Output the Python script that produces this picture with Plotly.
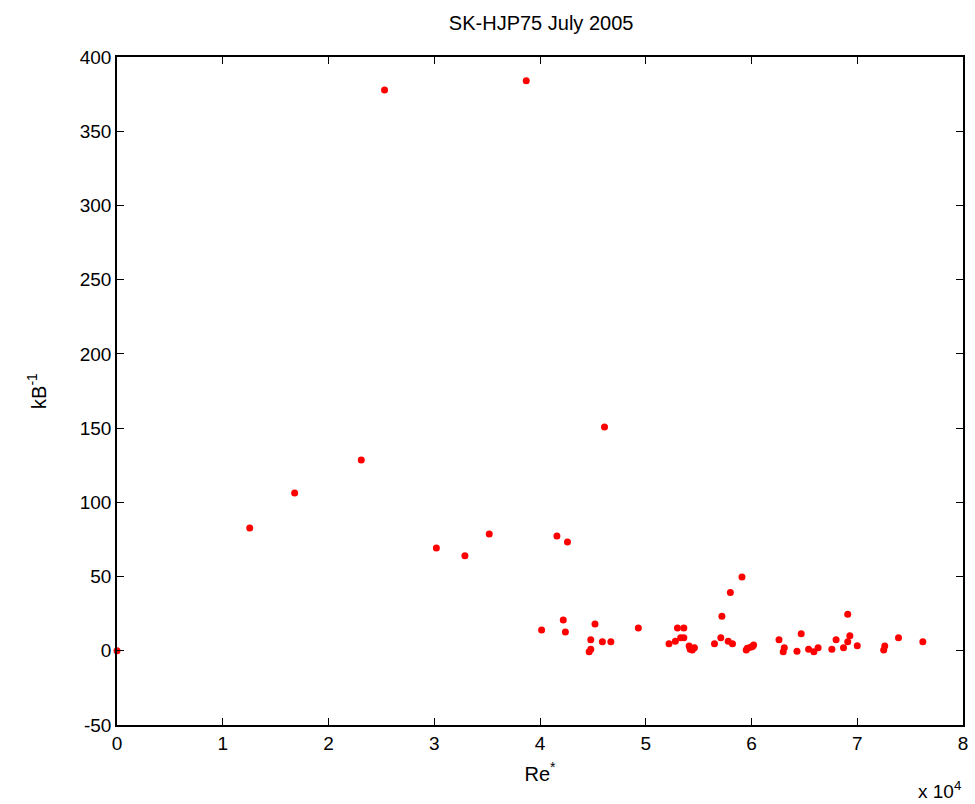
import plotly.graph_objects as go

# Roughness Reynolds number Re* and kB^-1 for the SK-HJP75 campaign
re_star = [
    0, 12550, 16800, 23100, 25300, 30200, 32900, 35200, 38700, 41600,
    42600, 46100, 40150, 42200, 42400, 45200, 44800, 44800, 44650, 45900,
    46700, 49300, 52200, 52800, 53000, 53600, 53300, 53600, 54100, 54200,
    54600, 54400, 56500, 57100, 57200, 57800, 58200, 58000, 59100, 59600,
    59500, 60200, 60100, 59900, 62600, 63100, 63000, 64700, 64300, 65400,
    65900, 66300, 67600, 68000, 68700, 69100, 69300, 69100, 70000, 72500,
    72600, 73900, 76200,
]
kb_inv = [
    0, 82.7, 106.3, 128.6, 377.8, 69.3, 64.0, 78.7, 384.0, 77.3,
    73.3, 150.8, 14.0, 20.7, 12.7, 18.0, 7.5, 1.0, -0.6, 6.1,
    6.1, 15.4, 4.8, 6.4, 15.4, 15.4, 8.8, 8.8, 3.2, 1.0,
    2.1, 0.5, 4.8, 8.8, 23.2, 6.4, 4.8, 39.2, 49.7, 1.7,
    0.5, 3.9, 2.8, 2.4, 7.5, 2.1, -0.6, 11.5, -0.3, 1.0,
    -0.6, 2.1, 1.0, 7.5, 2.1, 24.6, 10.2, 6.1, 3.4, 0.5,
    3.2, 8.8, 6.1,
]

x_tick_vals = [0, 10000, 20000, 30000, 40000, 50000, 60000, 70000, 80000]
x_tick_text = ["0", "1", "2", "3", "4", "5", "6", "7", "8"]
y_tick_vals = [-50, 0, 50, 100, 150, 200, 250, 300, 350, 400]
y_tick_text = ["-50", "0", "50", "100", "150", "200", "250", "300", "350", "400"]

font_family = "Liberation Sans Narrow, Liberation Sans, Arial, sans-serif"

fig = go.Figure(
    go.Scatter(
        x=re_star,
        y=kb_inv,
        mode="markers",
        marker=dict(color="#ff0000", size=7, line=dict(width=0)),
        cliponaxis=False,
        showlegend=False,
    )
)

axis_common = dict(
    showgrid=False,
    zeroline=False,
    showline=True,
    linecolor="black",
    linewidth=1.5,
    mirror="ticks",
    ticks="inside",
    ticklen=7,
    tickwidth=1,
    tickcolor="black",
    tickfont=dict(family=font_family, size=19, color="black"),
)

fig.update_layout(
    width=975,
    height=804,
    margin=dict(l=117, r=7, t=57, b=79),
    paper_bgcolor="white",
    plot_bgcolor="white",
    title=dict(
        text="SK-HJP75 July 2005",
        x=0.555,
        xanchor="center",
        y=0.972,
        yanchor="middle",
        font=dict(family=font_family, size=20, color="black"),
    ),
    xaxis=dict(
        range=[0, 80000],
        tickvals=x_tick_vals,
        ticktext=x_tick_text,
        title=dict(
            text="Re<sup>*</sup>",
            font=dict(family=font_family, size=20, color="black"),
            standoff=14,
        ),
        **axis_common,
    ),
    yaxis=dict(
        range=[-50, 400],
        tickvals=y_tick_vals,
        ticktext=y_tick_text,
        title=dict(
            text="kB<sup>-1</sup>",
            font=dict(family=font_family, size=20, color="black"),
            standoff=28,
        ),
        **axis_common,
    ),
    annotations=[
        dict(
            text="x 10<sup>4</sup>",
            xref="paper",
            yref="paper",
            x=1.0,
            y=-0.097,
            xanchor="right",
            yanchor="middle",
            showarrow=False,
            font=dict(family=font_family, size=19, color="black"),
        )
    ],
)

fig.write_html("out.html")
